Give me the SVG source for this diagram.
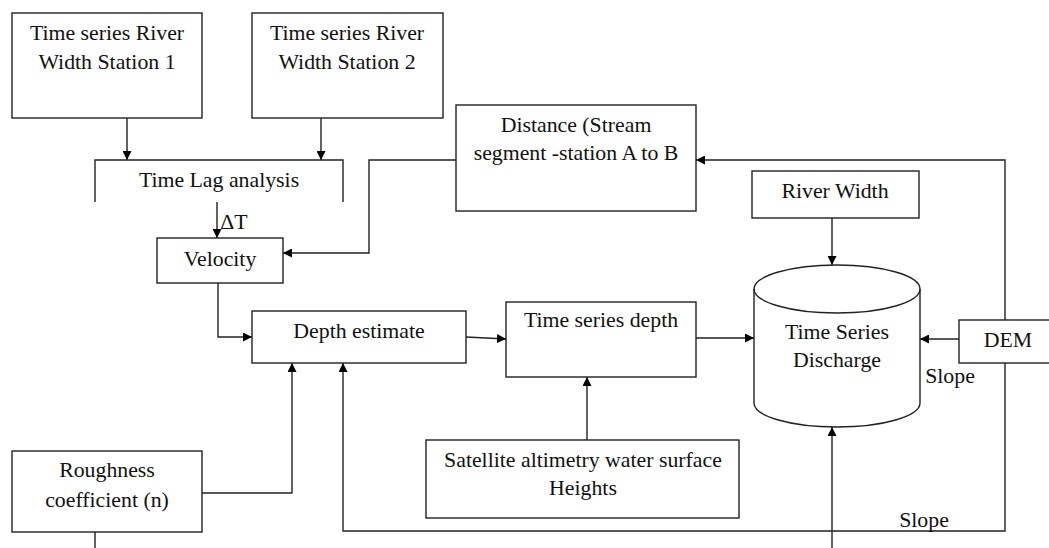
<svg xmlns="http://www.w3.org/2000/svg" width="1049" height="548" viewBox="0 0 1049 548">
<style>
.b{fill:#fff;stroke:#222;stroke-width:1.4}
.t{font-family:"Liberation Serif","Times New Roman",serif;font-size:21.8px;fill:#111;text-anchor:middle}
.c{fill:none;stroke:#222;stroke-width:1.4}
</style>
<defs>
<marker id="a" viewBox="0 0 10 10" refX="10" refY="5" markerWidth="9" markerHeight="9" markerUnits="userSpaceOnUse" orient="auto">
<path d="M0,0 L10,5 L0,10 z" fill="#000"/>
</marker>
</defs>
<rect width="1049" height="548" fill="#fff"/>
<g id="connectors">
<path class="c" d="M127,118 V160" marker-end="url(#a)"/>
<path class="c" d="M321,118 V160" marker-end="url(#a)"/>
<path class="c" d="M217,201 V238" marker-end="url(#a)"/>
<path class="c" d="M456,160 H369 V253 H283" marker-end="url(#a)"/>
<path class="c" d="M218,283 V337 H252" marker-end="url(#a)"/>
<path class="c" d="M466,337 L506,339" marker-end="url(#a)"/>
<path class="c" d="M696,338 H754" marker-end="url(#a)"/>
<path class="c" d="M587,440 V377" marker-end="url(#a)"/>
<path class="c" d="M832,218 V265" marker-end="url(#a)"/>
<path class="c" d="M959,339 H920" marker-end="url(#a)"/>
<path class="c" d="M1005,320 V160 H696" marker-end="url(#a)"/>
<path class="c" d="M1005,363 V531 H343 V363" marker-end="url(#a)"/>
<path class="c" d="M202,493 H292 V363" marker-end="url(#a)"/>
<path class="c" d="M95,532 V548"/>
<path class="c" d="M832,548 V427" marker-end="url(#a)"/>
<text class="t" x="234" y="229">ΔT</text>
<text class="t" x="950" y="383">Slope</text>
<text class="t" x="924" y="527">Slope</text>
</g>
<g id="station1">
<rect class="b" x="12" y="13" width="190" height="105"/>
<text class="t" x="107" y="40">Time series River</text>
<text class="t" x="107" y="69">Width Station 1</text>
</g>
<g id="station2">
<rect class="b" x="252" y="13" width="191" height="105"/>
<text class="t" x="347" y="40">Time series River</text>
<text class="t" x="347" y="69">Width Station 2</text>
</g>
<g id="timelag">
<path class="b" d="M95,202 V160 H343 V202"/>
<text class="t" x="219" y="187">Time Lag analysis</text>
</g>
<g id="distance">
<rect class="b" x="456" y="105" width="240" height="106"/>
<text class="t" x="576" y="132">Distance (Stream</text>
<text class="t" x="576" y="160">segment -station A to B</text>
</g>
<g id="velocity">
<rect class="b" x="157" y="238" width="126" height="45"/>
<text class="t" x="220" y="266">Velocity</text>
</g>
<g id="riverwidth">
<rect class="b" x="752" y="171" width="167" height="47"/>
<text class="t" x="835" y="198">River Width</text>
</g>
<g id="depthestimate">
<rect class="b" x="252" y="311" width="214" height="52"/>
<text class="t" x="359" y="338">Depth estimate</text>
</g>
<g id="tsdepth">
<rect class="b" x="506" y="302" width="190" height="75"/>
<text class="t" x="601" y="327">Time series depth</text>
</g>
<g id="discharge">
<path class="b" d="M754,289 V403 A83,24 0 0 0 920,403 V289 A83,24 0 0 0 754,289 Z"/>
<path class="c" d="M754,289 A83,24 0 0 0 920,289"/>
<text class="t" x="837" y="339">Time Series</text>
<text class="t" x="837" y="367">Discharge</text>
</g>
<g id="dem">
<rect class="b" x="959" y="320" width="100" height="43"/>
<text class="t" x="1008" y="347">DEM</text>
</g>
<g id="satellite">
<rect class="b" x="426" y="440" width="313" height="78"/>
<text class="t" x="583" y="467">Satellite altimetry water surface</text>
<text class="t" x="583" y="495">Heights</text>
</g>
<g id="roughness">
<rect class="b" x="12" y="451" width="190" height="81"/>
<text class="t" x="107" y="477">Roughness</text>
<text class="t" x="107" y="507">coefficient (n)</text>
</g>
</svg>
